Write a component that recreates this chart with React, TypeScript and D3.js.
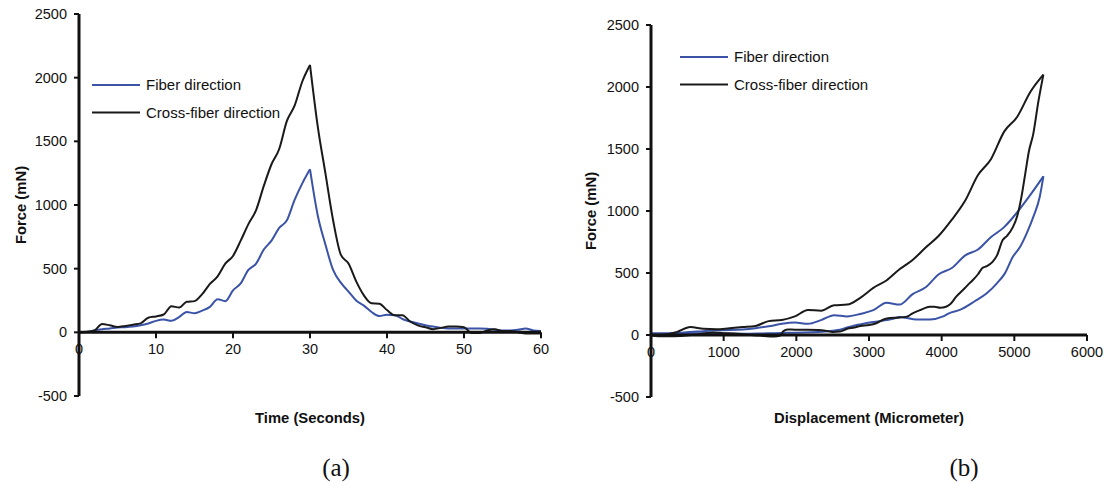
import React from "react";
import * as d3 from "d3";

// ---------- Panel (a): force vs time ----------
const aTime = [0,1,2,3,4,5,6,7,8,9,10,11,12,13,14,15,16,17,18,19,20,21,22,23,24,25,26,27,28,29,30,31,32,33,34,35,36,37,38,39,40,41,42,43,44,45,46,47,48,49,50,51,52,53,54,55,56,57,58,59,60];
const aFiber = [0,5,15,25,30,38,40,45,55,70,90,100,90,120,160,150,170,200,260,245,330,385,490,540,650,720,820,880,1040,1170,1280,920,690,490,390,320,250,210,160,128,138,135,105,85,70,55,45,35,30,30,30,30,30,28,20,15,15,20,30,15,10];
const aCross = [0,2,15,65,55,42,50,60,70,115,125,140,205,195,240,245,300,380,440,540,600,720,850,960,1150,1320,1440,1660,1780,1970,2100,1620,1250,880,610,540,400,290,228,225,175,135,135,85,55,40,25,35,45,45,40,-5,-5,15,25,10,10,0,-10,-10,-10];
const aXTicks = [0,10,20,30,40,50,60];
const yTicks = [-500,0,500,1000,1500,2000,2500];

// ---------- Panel (b): force vs displacement (loading + unloading) ----------
const bLoadDisp = [0,180,360,540,720,900,1080,1260,1440,1620,1800,1980,2160,2340,2520,2700,2880,3060,3240,3420,3600,3780,3960,4140,4320,4500,4680,4860,5040,5220,5400];
const bFiberLoad = [0,5,15,25,30,38,40,45,55,70,90,100,90,120,160,150,170,200,260,245,330,385,490,540,640,690,790,870,990,1130,1280];
const bCrossLoad = [0,2,25,64,50,46,55,64,73,112,121,150,202,196,240,245,300,380,440,530,605,705,800,930,1080,1290,1420,1640,1760,1960,2100];

const bFiberUnloadDisp = [0,100,300,500,700,900,1100,1300,1500,1700,1900,2100,2300,2500,2600,2700,2830,3060,3240,3330,3420,3500,3650,3840,4020,4100,4250,4450,4620,4760,4870,4980,5080,5170,5260,5350,5400];
const bFiberUnload = [15,15,15,15,14,12,10,10,12,15,18,20,25,35,42,60,80,105,120,130,145,140,126,126,150,175,202,270,336,417,497,631,712,820,950,1115,1280];

const bCrossUnloadDisp = [0,100,250,400,550,700,850,1000,1150,1300,1500,1700,1780,1820,1880,2000,2150,2300,2400,2500,2600,2700,2800,2880,3000,3100,3200,3290,3400,3520,3600,3700,3760,3840,3900,3980,4060,4120,4200,4320,4370,4430,4500,4560,4620,4700,4760,4840,4900,4980,5040,5100,5150,5200,5260,5330,5400];
const bCrossUnload = [-5,-10,-10,-8,0,10,20,15,12,5,-5,-12,-5,30,45,42,42,40,35,25,28,50,60,73,80,95,125,137,140,148,175,200,215,228,228,220,228,250,309,379,410,444,490,540,555,590,640,766,800,870,960,1120,1300,1480,1620,1880,2100];
const bXTicks = [0,1000,2000,3000,4000,5000,6000];

const BLUE = "#3a53a6";
const BLACK = "#1a1a1a";
const FONT = "'Liberation Sans', Arial, Helvetica, sans-serif";

type Seg = { xs: number[]; ys: number[]; color: string };

function splitAtPeak(xs: number[], ys: number[], color: string): Seg[] {
  const i = d3.maxIndex(ys);
  return [
    { xs: xs.slice(0, i + 1), ys: ys.slice(0, i + 1), color },
    { xs: xs.slice(i), ys: ys.slice(i), color },
  ];
}

function Panel(props: {
  x: d3.ScaleLinear<number, number>;
  y: d3.ScaleLinear<number, number>;
  xTicks: number[];
  segs: Seg[];
  legendX: number;
  legendY: number;
  xTitle: string;
  yTitleX: number;
  label: string;
  labelX: number;
}) {
  const { x, y, xTicks, segs, legendX, legendY, xTitle, yTitleX, label, labelX } = props;
  const x0 = x(0);
  const y0 = y(0);
  const [xMin, xMax] = x.domain();
  const line = d3
    .line<[number, number]>()
    .x((d) => x(d[0]))
    .y((d) => y(d[1]))
    .curve(d3.curveMonotoneX);
  const yMid = (y(2500) + y(-500)) / 2;
  return (
    <g>
      {segs.map((s, i) => (
        <path
          key={i}
          d={line(s.xs.map((v, j) => [v, s.ys[j]]) as [number, number][]) || ""}
          fill="none"
          stroke={s.color}
          strokeWidth={2}
          strokeLinejoin="round"
        />
      ))}
      {/* y axis */}
      <line x1={x0} x2={x0} y1={y(2500)} y2={y(-500)} stroke="#111" strokeWidth={3} />
      {yTicks.map((t) => (
        <g key={t}>
          <line x1={x0 - 5} x2={x0} y1={y(t)} y2={y(t)} stroke="#111" strokeWidth={2} />
          <text x={x0 - 12} y={y(t)} dy="0.35em" textAnchor="end" fontSize={14.5} fontFamily={FONT} fill="#111">
            {t}
          </text>
        </g>
      ))}
      {/* x axis */}
      <line x1={x(xMin)} x2={x(xMax)} y1={y0} y2={y0} stroke="#111" strokeWidth={3} />
      {xTicks.map((t) => (
        <g key={t}>
          <line x1={x(t)} x2={x(t)} y1={y0} y2={y0 + 6} stroke="#111" strokeWidth={2} />
          <text x={x(t)} y={y0 + 22} textAnchor="middle" fontSize={14.5} fontFamily={FONT} fill="#111">
            {t}
          </text>
        </g>
      ))}
      {/* legend */}
      {[
        { name: "Fiber direction", color: BLUE },
        { name: "Cross-fiber direction", color: BLACK },
      ].map((l, i) => (
        <g key={l.name}>
          <line x1={legendX} x2={legendX + 48} y1={legendY + i * 27.5} y2={legendY + i * 27.5} stroke={l.color} strokeWidth={2} />
          <text x={legendX + 54} y={legendY + i * 27.5} dy="0.35em" fontSize={15} fontFamily={FONT} fill="#111">
            {l.name}
          </text>
        </g>
      ))}
      {/* titles */}
      <text x={(x(xMin) + x(xMax)) / 2} y={423} textAnchor="middle" fontSize={14.8} fontWeight="bold" fontFamily={FONT} fill="#111">
        {xTitle}
      </text>
      <text
        transform={`translate(${yTitleX},${yMid}) rotate(-90)`}
        textAnchor="middle"
        dy="0.35em"
        fontSize={14.8}
        fontWeight="bold"
        fontFamily={FONT}
        fill="#111"
      >
        Force (mN)
      </text>
      <text x={labelX} y={476} textAnchor="middle" fontSize={25} fontFamily="'Liberation Serif', 'Times New Roman', serif" fill="#111">
        {label}
      </text>
    </g>
  );
}

export default function App() {
  const xa = d3.scaleLinear().domain([0, 60]).range([79, 541]);
  const ya = d3.scaleLinear().domain([-500, 2500]).range([396, 14]);
  const xb = d3.scaleLinear().domain([0, 6000]).range([651, 1087]);
  const yb = d3.scaleLinear().domain([-500, 2500]).range([397, 25]);

  const aSegs: Seg[] = [
    ...splitAtPeak(aTime, aFiber, BLUE),
    ...splitAtPeak(aTime, aCross, BLACK),
  ];
  const bSegs: Seg[] = [
    { xs: bLoadDisp, ys: bFiberLoad, color: BLUE },
    { xs: bFiberUnloadDisp, ys: bFiberUnload, color: BLUE },
    { xs: bLoadDisp, ys: bCrossLoad, color: BLACK },
    { xs: bCrossUnloadDisp, ys: bCrossUnload, color: BLACK },
  ];

  return (
    <svg
      width={1108}
      height={485}
      viewBox="0 0 1108 485"
      style={{ position: "absolute", left: 0, top: 0, background: "#fff" }}
    >
      <rect width={1108} height={485} fill="#fff" />
      <Panel
        x={xa}
        y={ya}
        xTicks={aXTicks}
        segs={aSegs}
        legendX={92}
        legendY={85}
        xTitle="Time (Seconds)"
        yTitleX={21}
        label="(a)"
        labelX={336}
      />
      <Panel
        x={xb}
        y={yb}
        xTicks={bXTicks}
        segs={bSegs}
        legendX={680}
        legendY={57}
        xTitle="Displacement (Micrometer)"
        yTitleX={591}
        label="(b)"
        labelX={964}
      />
    </svg>
  );
}
